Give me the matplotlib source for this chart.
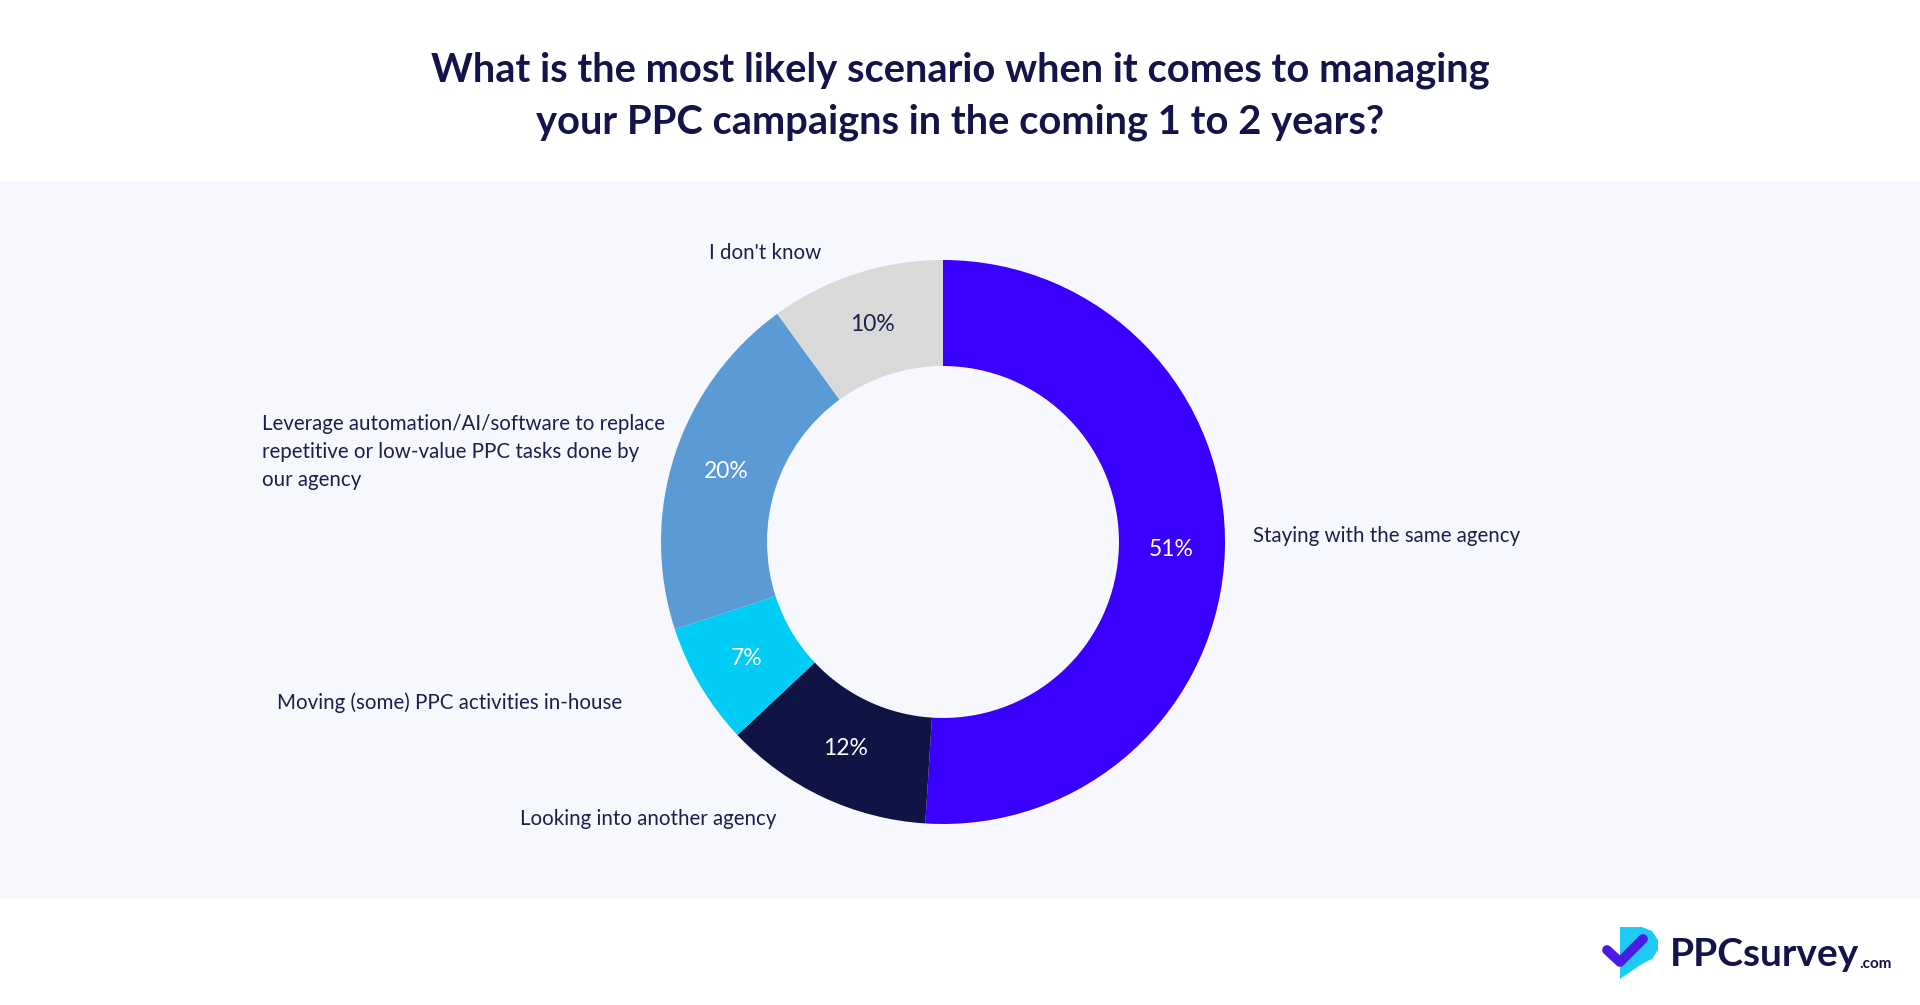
import matplotlib.pyplot as plt
from matplotlib.patches import Rectangle, Polygon

plt.rcParams['font.family'] = ['Lato', 'DejaVu Sans']

# data
categories = ["Staying with the same agency", "Looking into another agency",
              "Moving (some) PPC activities in-house",
              "Leverage automation/AI/software to replace\nrepetitive or low-value PPC tasks done by\nour agency",
              "I don't know"]
values = [51, 12, 7, 20, 10]
colors = ["#3A00FF", "#0F1445", "#00CCF5", "#5B9BD5", "#D9D9D9"]
pct_colors = ["white", "white", "white", "white", "#1B1F4B"]

title = "What is the most likely scenario when it comes to managing\nyour PPC campaigns in the coming 1 to 2 years?"

W, H = 1920, 1005
fig = plt.figure(figsize=(W / 100, H / 100), dpi=100)
fig.patch.set_facecolor("white")
ax = fig.add_axes([0, 0, 1, 1])

def py(y):
    # pixel row (from top) to data y
    return H - y

# grey band behind the chart
ax.add_patch(Rectangle((0, py(899)), W, 899 - 181, facecolor="#F7F8FD", edgecolor="none", zorder=0))

cx, cy, R = 943, py(542), 282
wedges, texts, autotexts = ax.pie(values, colors=colors, startangle=90, counterclock=False,
                                  center=(cx, cy), radius=R, autopct="%d%%", pctdistance=0.81,
                                  wedgeprops=dict(width=R * 0.376, edgecolor="none"),
                                  textprops=dict(fontsize=16.5), frame=True)
ax.set_xlim(0, W)
ax.set_ylim(0, H)
ax.set_aspect("equal")
ax.axis("off")
for t, c in zip(autotexts, pct_colors):
    t.set_color(c)

# outer labels (x, y in pixels from top-left, alignment)
label_pos = [(1253, 536, "left"), (777, 819, "right"), (622, 703, "right"),
             (262, 452, "left"), (765, 253, "center")]
for name, (x, y, ha) in zip(categories, label_pos):
    ax.text(x, py(y), name, ha=ha, va="center", fontsize=14.8, color="#1B1F4B",
            linespacing=1.5)

ax.text(W / 2, py(96), title, ha="center", va="center", fontsize=28.7, fontweight="bold",
        color="#14134A", linespacing=1.5)

# logo
ax.add_patch(Polygon([(1620, py(927)), (1642, py(927)), (1652, py(931)), (1658, py(940)),
                      (1658, py(950)), (1652, py(959)), (1642, py(964)), (1620, py(979))],
                     closed=True, facecolor="#1ECBF5", edgecolor="none", zorder=5))
ax.plot([1607, 1620, 1643], [py(950), py(962), py(939)], color="#4B1BE6", lw=7,
        solid_capstyle="round", solid_joinstyle="round", zorder=6)
ax.text(1670, py(954), "PPCsurvey", ha="left", va="center", fontsize=28, fontweight="bold",
        color="#14134A", zorder=6)
ax.text(1859, py(964), ".com", ha="left", va="center", fontsize=11, fontweight="bold",
        color="#14134A", zorder=6)

fig.savefig("out.png", dpi=100, facecolor="white")
